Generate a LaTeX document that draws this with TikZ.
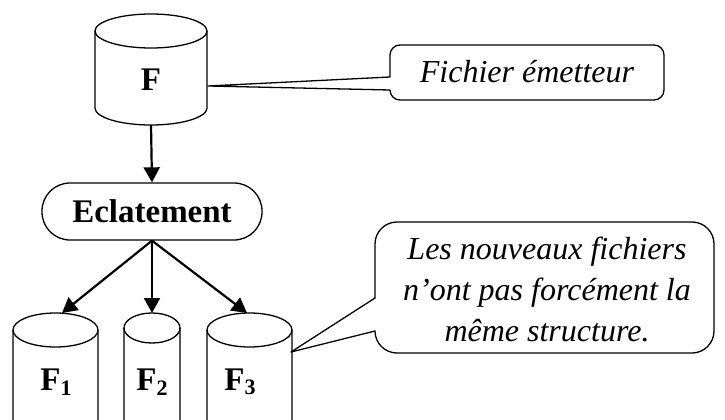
\documentclass[tikz,border=0pt]{standalone}
\usepackage{fontspec}
\setmainfont{Liberation Serif}
\usetikzlibrary{arrows.meta}
\tikzset{
  shapeline/.style={line width=1.3pt, black},
  arrowline/.style={line width=2.2pt, black, -{Triangle[length=15pt,width=16pt]}},
  boldlab/.style={font=\fontsize{33}{40}\selectfont\bfseries, inner sep=0pt},
  itallab/.style={font=\fontsize{32}{41}\selectfont\itshape, align=center, inner sep=0pt},
}
\newcommand\mycyl[5]{% cx, top, rx, ry, bottom-of-side
  \draw[shapeline, fill=white] (#1-#3,#2+#4) -- (#1-#3,#5) arc (180:0:#3 and #4) -- (#1+#3,#2+#4);
  \draw[shapeline] (#1,#2+#4) ellipse (#3 and #4);
}
\newcommand\subnum[1]{\raisebox{-0.3ex}{\fontsize{22}{22}\selectfont #1}}
\begin{document}
\begin{tikzpicture}[x=1pt,y=-1pt]
\useasboundingbox (0,0) rectangle (725,420);
\clip (0,0) rectangle (725,420);
% cylinder F
\mycyl{151}{14}{56}{17}{108}
\node[boldlab] (F) at (151,80) {F};
\coordinate (Fbot) at (151,125);
% Eclatement
\node[shapeline, draw, rounded corners=28pt, minimum width=220pt, minimum height=57pt, inner sep=0pt, boldlab] (E) at (152,211.5) {Eclatement};
\draw[arrowline] (Fbot) -- (E.north);
% bottom cylinders
\mycyl{55.5}{313}{42.5}{17}{440}
\mycyl{152}{313}{28}{15}{440}
\mycyl{249.5}{313}{42.5}{17}{440}
\coordinate (F1top) at (62,313);
\coordinate (F2top) at (152,313);
\coordinate (F3top) at (247,313);
\node[boldlab] (F1) at (56,382) {F\subnum{1}};
\node[boldlab] (F2) at (152,382) {F\subnum{2}};
\node[boldlab] (F3) at (240,382) {F\subnum{3}};
\draw[arrowline] (E.south) -- (F1top);
\draw[arrowline] (E.south) -- (F2top);
\draw[arrowline] (E.south) -- (F3top);
% callout 1
\draw[shapeline, line join=round] (390,77) -- (390,55) arc (180:270:10) -- (654,45) arc (270:360:10)
  -- (664,90) arc (0:90:10) -- (400,100) arc (90:180:10) -- (208,86) -- cycle;
\node[itallab] (C1) at (527,72) {Fichier émetteur};
% callout 2
\draw[shapeline, line join=round] (375,298) -- (375,244) arc (180:270:22) -- (692,222) arc (270:360:22)
  -- (714,331) arc (0:90:22) -- (397,353) arc (90:180:22) -- (291,352) -- cycle;
\node[itallab] (C2) at (547,289) {Les nouveaux fichiers\\n’ont pas forcément la\\même structure.};
\end{tikzpicture}
\end{document}
